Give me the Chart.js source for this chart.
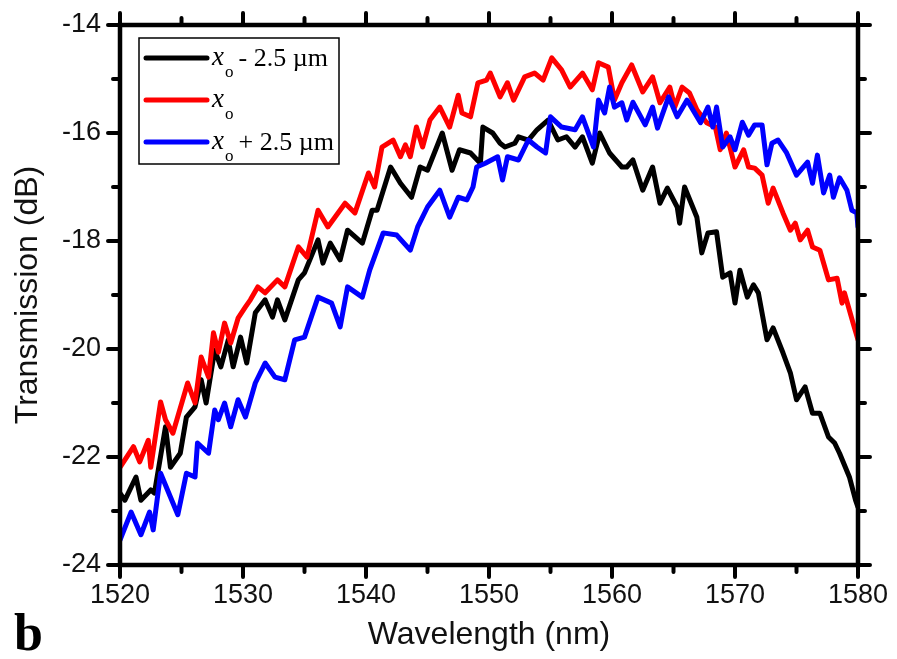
<!DOCTYPE html>
<html>
<head>
<meta charset="UTF-8">
<title>Transmission vs wavelength</title>
<script src="https://cdn.jsdelivr.net/npm/chart.js@4.4.1/dist/chart.umd.min.js"></script>
<style>
  body { margin: 0; background: #fff; }
  #wrap { width: 897px; height: 659px; position: relative; }
</style>
</head>
<body>
<div id="wrap"><canvas id="c"></canvas></div>
<script>
// tick labels
var xTicks = [1520, 1530, 1540, 1550, 1560, 1570, 1580];
var yTicks = [-24, -22, -20, -18, -16, -14];

// x_o - 2.5 um (black)
var wlBlack = [1520.0,1520.4,1521.3,1521.7,1522.5,1522.8,1523.7,1524.1,1524.9,1525.4,
  1526.1,1526.6,1527.0,1527.7,1528.2,1528.8,1529.2,1529.8,1530.3,1531.0,
  1531.8,1532.4,1532.8,1533.4,1534.5,1535.0,1536.1,1536.5,1537.1,1537.9,
  1538.5,1539.7,1540.5,1540.9,1542.0,1542.8,1543.7,1544.4,1545.0,1546.2,
  1547.0,1547.6,1548.5,1549.3,1549.5,1550.3,1550.9,1551.3,1552.1,1552.4,
  1553.2,1553.9,1554.8,1555.6,1556.3,1557.0,1557.6,1558.4,1559.0,1559.8,
  1560.8,1561.2,1561.7,1562.5,1563.3,1563.9,1564.5,1565.3,1565.5,1565.9,
  1566.9,1567.3,1567.8,1568.5,1569.0,1569.6,1570.0,1570.4,1571.0,1571.5,
  1571.9,1572.6,1573.1,1573.9,1574.5,1575.0,1575.7,1576.3,1576.9,1577.6,
  1578.1,1578.5,1579.3,1579.8,1580.0];
var tBlack = [-22.67,-22.80,-22.37,-22.80,-22.61,-22.67,-21.44,-22.19,-21.93,-21.26,
  -21.07,-20.57,-21.0,-20.02,-20.33,-19.83,-20.33,-19.78,-20.26,-19.33,
  -19.09,-19.41,-19.09,-19.46,-18.72,-18.59,-17.98,-18.41,-18.04,-18.35,
  -17.80,-18.04,-17.43,-17.43,-16.63,-16.93,-17.19,-16.63,-16.69,-16.0,
  -16.69,-16.31,-16.37,-16.56,-15.89,-16.0,-16.19,-16.26,-16.19,-16.07,
  -16.13,-15.94,-15.76,-16.13,-16.07,-16.26,-16.07,-16.56,-16.0,-16.37,
  -16.63,-16.63,-16.50,-17.06,-16.63,-17.30,-17.02,-17.37,-17.67,-17.0,
  -17.56,-18.22,-17.85,-17.83,-18.67,-18.59,-19.15,-18.54,-19.04,-18.81,
  -18.96,-19.83,-19.61,-20.07,-20.44,-20.94,-20.70,-21.19,-21.19,-21.63,
  -21.74,-21.93,-22.37,-22.80,-22.93];

// x_o (red)
var wlRed = [1520.0,1521.1,1521.6,1522.3,1522.5,1523.3,1523.7,1524.3,1525.5,1526.1,
  1526.6,1527.2,1527.6,1528.0,1528.5,1529.0,1529.6,1530.2,1530.6,1531.2,
  1531.8,1532.8,1533.4,1534.5,1535.2,1536.1,1536.9,1538.3,1539.1,1540.2,
  1540.7,1541.3,1542.2,1542.8,1543.2,1543.6,1544.1,1544.6,1545.2,1546.0,
  1546.8,1547.5,1547.8,1548.5,1549.1,1549.8,1550.1,1550.9,1551.5,1552.0,
  1552.9,1553.7,1554.4,1555.1,1555.9,1556.6,1557.6,1558.4,1558.9,1559.7,
  1560.2,1560.8,1561.6,1562.5,1563.3,1563.9,1564.7,1565.1,1565.7,1566.3,
  1566.9,1567.7,1568.4,1568.8,1569.3,1570.0,1570.7,1571.1,1571.6,1572.2,
  1572.7,1573.1,1573.9,1574.5,1574.9,1575.3,1575.9,1576.3,1576.9,1577.6,
  1578.3,1578.7,1578.9,1579.6,1580.0];
var tRed = [-22.19,-21.81,-22.09,-21.69,-22.19,-20.98,-21.31,-21.56,-20.63,-21.0,
  -20.15,-20.52,-19.70,-20.06,-19.52,-19.89,-19.43,-19.22,-19.09,-18.85,
  -18.96,-18.72,-18.85,-18.11,-18.30,-17.43,-17.74,-17.30,-17.48,-16.74,
  -17.0,-16.26,-16.13,-16.44,-16.22,-16.44,-15.89,-16.26,-15.76,-15.52,
  -15.89,-15.30,-15.63,-15.70,-15.07,-15.02,-14.89,-15.33,-15.07,-15.39,
  -14.96,-14.89,-15.02,-14.61,-14.83,-15.15,-14.89,-15.20,-14.70,-14.78,
  -15.39,-15.07,-14.74,-15.24,-14.96,-15.44,-15.15,-15.52,-15.15,-15.26,
  -15.57,-15.81,-15.89,-16.31,-16.0,-16.63,-16.31,-16.63,-16.65,-16.78,
  -17.30,-17.02,-17.48,-17.80,-17.67,-17.98,-17.80,-18.11,-18.17,-18.72,
  -18.69,-19.15,-18.96,-19.52,-19.83];

// x_o + 2.5 um (blue)
var wlBlue = [1520.0,1520.9,1521.7,1522.4,1522.7,1523.3,1524.1,1524.7,1525.4,1526.1,
  1526.3,1527.2,1527.7,1528.0,1528.5,1529.0,1529.6,1530.2,1531.0,1531.8,
  1532.6,1533.4,1534.2,1535.0,1536.1,1537.2,1537.9,1538.5,1539.7,1540.3,
  1541.4,1542.5,1543.6,1544.2,1545.0,1546.0,1546.8,1547.5,1548.2,1548.7,
  1549.0,1549.7,1550.7,1551.1,1551.5,1552.4,1553.2,1553.9,1554.6,1555.0,
  1555.9,1557.0,1557.6,1558.5,1558.9,1559.4,1559.8,1560.2,1560.8,1561.2,
  1561.7,1562.7,1563.3,1563.7,1564.6,1565.3,1566.1,1567.2,1567.8,1568.2,
  1568.5,1569.0,1569.6,1570.0,1570.6,1571.1,1571.6,1572.2,1572.6,1573.0,
  1573.5,1574.2,1575.0,1575.9,1576.3,1576.7,1577.2,1577.7,1578.0,1578.5,
  1579.1,1579.5,1579.9,1580.0];
var tBlue = [-23.54,-23.02,-23.44,-23.02,-23.35,-22.30,-22.74,-23.07,-22.30,-22.37,
  -21.74,-21.93,-21.13,-21.31,-21.0,-21.44,-20.94,-21.26,-20.63,-20.26,
  -20.52,-20.57,-19.83,-19.78,-19.04,-19.15,-19.59,-18.85,-19.04,-18.54,
  -17.85,-17.89,-18.17,-17.74,-17.37,-17.06,-17.56,-17.19,-17.24,-17.0,
  -16.63,-16.56,-16.44,-16.87,-16.44,-16.50,-16.13,-16.26,-16.37,-15.70,
  -15.89,-15.94,-15.70,-16.26,-15.39,-15.63,-15.15,-15.52,-15.44,-15.76,
  -15.43,-15.85,-15.52,-15.91,-15.33,-15.70,-15.39,-15.81,-15.52,-15.89,
  -15.52,-16.26,-16.07,-16.31,-15.80,-16.04,-15.85,-15.85,-16.59,-16.19,
  -16.13,-16.37,-16.78,-16.54,-16.93,-16.41,-17.11,-16.78,-17.19,-16.83,
  -17.06,-17.43,-17.48,-17.74];

function pts(xs, ys) {
  var out = [];
  for (var i = 0; i < xs.length; i++) out.push({ x: xs[i], y: ys[i] });
  return out;
}

var legendItems = [
  { color: '#000000', rest: ' - 2.5 \u00b5m' },
  { color: '#ff0000', rest: '' },
  { color: '#0000ff', rest: ' + 2.5 \u00b5m' }
];

// frame, ticks on all four sides, legend and panel letter
var framePlugin = {
  id: 'frame',
  afterDraw: function(chart) {
    var ctx = chart.ctx, a = chart.chartArea;
    var xs = chart.scales.x, ys = chart.scales.y;
    ctx.save();
    ctx.strokeStyle = '#000';
    ctx.lineWidth = 4;
    ctx.lineCap = 'round';
    for (var v = 1520; v <= 1580; v += 5) {
      var px = xs.getPixelForValue(v);
      var len = (v % 10 === 0) ? 12 : 7;
      ctx.beginPath();
      ctx.moveTo(px, a.bottom); ctx.lineTo(px, a.bottom + len);
      ctx.moveTo(px, a.top); ctx.lineTo(px, a.top - len);
      ctx.stroke();
    }
    for (var w = -24; w <= -14; w += 1) {
      var py = ys.getPixelForValue(w);
      var l2 = (w % 2 === 0) ? 12 : 7;
      ctx.beginPath();
      ctx.moveTo(a.left, py); ctx.lineTo(a.left - l2, py);
      ctx.moveTo(a.right, py); ctx.lineTo(a.right + l2, py);
      ctx.stroke();
    }
    ctx.lineCap = 'butt';
    ctx.lineWidth = 4.5;
    ctx.strokeRect(a.left, a.top, a.right - a.left, a.bottom - a.top);

    // legend
    var bx = 139, by = 38, bw = 200, bh = 126;
    ctx.fillStyle = '#fff';
    ctx.fillRect(bx, by, bw, bh);
    ctx.lineWidth = 1.5;
    ctx.strokeRect(bx, by, bw, bh);
    legendItems.forEach(function(it, i) {
      var yy = 58 + i * 42;
      ctx.strokeStyle = it.color;
      ctx.lineWidth = 5;
      ctx.lineCap = 'round';
      ctx.beginPath();
      ctx.moveTo(146, yy); ctx.lineTo(207, yy);
      ctx.stroke();
      ctx.fillStyle = '#000';
      ctx.textBaseline = 'alphabetic';
      ctx.textAlign = 'left';
      ctx.font = 'italic 27px "Liberation Serif"';
      ctx.fillText('x', 212, yy + 7);
      ctx.font = '17px "Liberation Serif"';
      ctx.fillText('o', 225, yy + 19);
      if (it.rest) {
        ctx.font = '26px "Liberation Serif"';
        ctx.fillText(it.rest, 232, yy + 8);
      }
    });

    ctx.fillStyle = '#000';
    ctx.font = 'bold 52px "Liberation Serif"';
    ctx.fillText('b', 14, 650);
    ctx.restore();
  }
};

var tickFont = { family: 'Liberation Sans', size: 27 };
var titleFont = { family: 'Liberation Sans', size: 32 };

function noPad(s) {
  s.paddingTop = 0; s.paddingBottom = 0; s.paddingLeft = 0; s.paddingRight = 0;
}

new Chart(document.getElementById('c'), {
  type: 'line',
  data: {
    datasets: [
      { label: 'xo + 2.5 um', data: pts(wlBlue, tBlue), borderColor: '#0000ff', order: 0 },
      { label: 'xo', data: pts(wlRed, tRed), borderColor: '#ff0000', order: 1 },
      { label: 'xo - 2.5 um', data: pts(wlBlack, tBlack), borderColor: '#000000', order: 2 }
    ]
  },
  options: {
    responsive: true,
    maintainAspectRatio: false,
    animation: false,
    parsing: false,
    elements: {
      line: { borderWidth: 5, tension: 0, borderJoinStyle: 'round', borderCapStyle: 'round' },
      point: { radius: 0 }
    },
    layout: { padding: { left: 0, top: 25, right: 39, bottom: 0 } },
    plugins: { legend: { display: false }, tooltip: { enabled: false } },
    scales: {
      x: {
        type: 'linear', min: 1520, max: 1580,
        afterBuildTicks: function(s) { s.ticks = xTicks.map(function(v) { return { value: v }; }); },
        afterFit: function(s) { s.height = 94; noPad(s); },
        grid: { display: false, drawTicks: false },
        border: { display: false },
        ticks: { font: tickFont, color: '#111', padding: 14, maxRotation: 0,
                 callback: function(v) { return String(v); } },
        title: { display: true, text: 'Wavelength (nm)', font: titleFont, color: '#111', padding: { top: 0, bottom: 5 } }
      },
      y: {
        type: 'linear', min: -24, max: -14,
        afterBuildTicks: function(s) { s.ticks = yTicks.map(function(v) { return { value: v }; }); },
        afterFit: function(s) { s.width = 120; noPad(s); },
        grid: { display: false, drawTicks: false },
        border: { display: false },
        ticks: { font: tickFont, color: '#111', padding: 19,
                 callback: function(v) { return String(v); } },
        title: { display: true, text: 'Transmission (dB)', font: titleFont, color: '#111', padding: { top: 9, bottom: 0 } }
      }
    }
  },
  plugins: [framePlugin]
});
</script>
</body>
</html>
